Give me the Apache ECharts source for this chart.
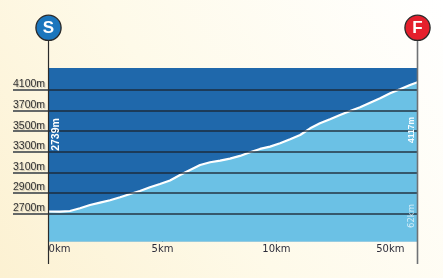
<!DOCTYPE html>
<html><head><meta charset="utf-8">
<script src="https://cdn.jsdelivr.net/npm/echarts@6/dist/echarts.min.js"></script>
<style>html,body{margin:0;padding:0;background:#fff;}#c{width:443px;height:278px;}</style>
</head><body><div id="c"></div>
<script>
// ---- data ----
const distanceKm = [0, 0.50, 0.94, 1.38, 1.82, 2.26, 2.70, 3.14, 3.58, 4.01, 4.45, 4.89, 5.33, 5.77, 6.21, 6.65, 7.09, 7.53, 7.96, 8.40, 8.84, 9.28, 9.72, 10.16, 10.60, 11.04, 11.48, 11.91, 12.35, 12.79, 13.23, 13.67, 14.11, 14.55, 14.99, 15.42, 15.86, 16.19];
const elevationM = [2721, 2719, 2726, 2752, 2784, 2807, 2830, 2859, 2891, 2920, 2956, 2988, 3022, 3075, 3124, 3172, 3199, 3214, 3234, 3260, 3296, 3328, 3350, 3383, 3422, 3463, 3528, 3577, 3616, 3657, 3696, 3732, 3777, 3819, 3868, 3907, 3948, 3975];
const xTickValues = [0, 5, 10, 15];
const xTickLabels = ['0km', '5km', '10km', '50km'];
const yTickValues = [2700, 2900, 3100, 3300, 3500, 3700, 3900];
const yTickLabels = ['2700m', '2900m', '3100m', '3300m', '3500m', '3700m', '4100m'];
const startText = '2739m';
const endText = '4117m';
const totalText = '62km';
const startMarker = 'S';
const finishMarker = 'F';
const X_MIN = -1.558, X_MAX = 16.19, Y_MIN = 2430, Y_MAX = 4113;

const chart = echarts.init(document.getElementById('c'), null, {renderer: 'canvas'});

function idxOf(arr, v) { return arr.findIndex(a => Math.abs(a - v) < 1e-6); }

const option = {
  animation: false,
  backgroundColor: {
    type: 'linear', x: 0, y: 1, x2: 1, y2: 0,
    colorStops: [{offset: 0, color: '#fcf1d2'}, {offset: 0.45, color: '#fefae9'}, {offset: 1, color: '#ffffff'}]
  },
  grid: {left: 13, right: 25.5, top: 68, bottom: 36.5, outerBoundsMode: 'none', containLabel: false},
  xAxis: {
    type: 'value', min: X_MIN, max: X_MAX,
    axisLine: {show: false},
    splitLine: {show: false},
    axisTick: {show: true, inside: true, length: 6, customValues: xTickValues.slice(1), lineStyle: {color: '#333', width: 1}},
    axisLabel: {
      customValues: xTickValues, margin: 3,
      fontFamily: 'DejaVu Sans', fontSize: 10, color: '#2d2d3a',
      formatter: v => { const i = idxOf(xTickValues, v); const t = i >= 0 ? xTickLabels[i] : ''; return i === 0 ? '{l|' + t + '}' : t; },
      rich: {l: {padding: [0, 0, 0, 22], fontFamily: 'DejaVu Sans', fontSize: 10, color: '#2d2d3a'}}
    }
  },
  yAxis: {
    type: 'value', min: Y_MIN, max: Y_MAX,
    axisLine: {show: false}, axisTick: {show: false}, splitLine: {show: false},
    axisLabel: {
      inside: true, customValues: yTickValues, margin: 0, align: 'left', verticalAlign: 'bottom',
      fontFamily: 'Liberation Sans', fontSize: 10.5, color: '#333', lineHeight: 11,
      textShadowColor: 'rgba(0,0,0,0.25)', textShadowOffsetX: 1, textShadowOffsetY: 1, textShadowBlur: 1,
      formatter: v => { const i = idxOf(yTickValues, v); return i >= 0 ? yTickLabels[i] : ''; }
    }
  },
  series: [
    {
      type: 'line', silent: true, z: 1, symbol: 'none',
      data: [[0, Y_MAX], [X_MAX, Y_MAX]],
      lineStyle: {width: 0},
      areaStyle: {color: '#1f68ab', opacity: 1, origin: 'start'}
    },
    {
      type: 'line', silent: true, z: 2, symbol: 'none',
      data: distanceKm.map((d, i) => [d, elevationM[i]]),
      lineStyle: {color: '#ffffff', width: 2.2},
      areaStyle: {color: '#6bc1e5', opacity: 1, origin: 'start'},
      markLine: {
        silent: true, symbol: ['none', 'none'], animation: false,
        label: {show: false},
        lineStyle: {color: '#1b2631', width: 1.5, type: 'solid', opacity: 0.9},
        data: yTickValues.map(v => ({yAxis: v}))
      }
    }
  ]
};
chart.setOption(option);

const p0 = chart.convertToPixel({gridIndex: 0}, [0, Y_MAX]);
const p1 = chart.convertToPixel({gridIndex: 0}, [X_MAX, Y_MAX]);
const pBottom = chart.convertToPixel({gridIndex: 0}, [0, Y_MIN]);
const cy = 27.8, r = 12.6;
const lineBottom = pBottom[1] + 22.5;
const yStart = chart.convertToPixel({gridIndex: 0}, [0, 3450])[1];
const yEnd = chart.convertToPixel({gridIndex: 0}, [0, 3450])[1];
const yTot = chart.convertToPixel({gridIndex: 0}, [0, 2675])[1];

chart.setOption({
  graphic: [
    {type: 'line', z: 100, shape: {x1: p0[0], y1: cy + r, x2: p0[0], y2: lineBottom}, style: {stroke: '#2b2b2b', lineWidth: 1.2}},
    {type: 'line', z: 100, shape: {x1: p1[0], y1: cy + r, x2: p1[0], y2: lineBottom}, style: {stroke: '#6f7275', lineWidth: 1.6}},
    {type: 'circle', z: 101, shape: {cx: p0[0], cy: cy, r: r}, style: {fill: '#1b76bd', stroke: '#2a2a2a', lineWidth: 1.3}},
    {type: 'text', z: 102, x: p0[0], y: cy + 1, style: {text: startMarker, fill: '#fff', font: 'bold 17px "Liberation Sans"', textAlign: 'center', textVerticalAlign: 'middle'}},
    {type: 'circle', z: 101, shape: {cx: p1[0], cy: cy, r: r}, style: {fill: '#e51f2c', stroke: '#2a2a2a', lineWidth: 1.3}},
    {type: 'text', z: 102, x: p1[0], y: cy + 1, style: {text: finishMarker, fill: '#fff', font: 'bold 17px "Liberation Sans"', textAlign: 'center', textVerticalAlign: 'middle'}},
    {type: 'text', z: 102, x: p0[0] + 7.5, y: 134.5, rotation: Math.PI / 2, style: {text: startText, fill: '#ffffff', font: 'bold 10.5px "Liberation Sans"', textAlign: 'center', textVerticalAlign: 'middle'}},
    {type: 'text', z: 102, x: p1[0] - 5.5, y: 130, rotation: Math.PI / 2, style: {text: endText, fill: '#f4fbff', font: 'bold 8.5px "Liberation Sans"', textAlign: 'center', textVerticalAlign: 'middle'}},
    {type: 'text', z: 102, x: p1[0] - 5.5, y: 216, rotation: Math.PI / 2, style: {text: totalText, fill: 'rgba(255,255,255,0.7)', font: '8.5px "DejaVu Sans"', textAlign: 'center', textVerticalAlign: 'middle'}}
  ]
});
</script>
</body></html>
